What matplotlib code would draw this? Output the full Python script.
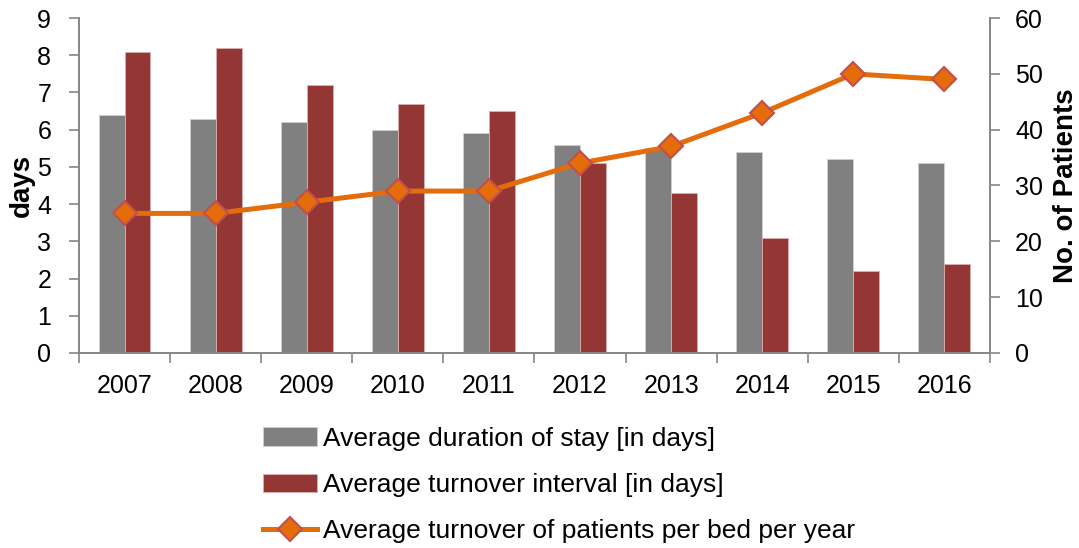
import matplotlib.pyplot as plt
import numpy as np

plt.rcParams["font.family"] = ["Liberation Sans", "DejaVu Sans"]

years = ["2007", "2008", "2009", "2010", "2011", "2012", "2013", "2014", "2015", "2016"]
stay_days = [6.4, 6.3, 6.2, 6.0, 5.9, 5.6, 5.5, 5.4, 5.2, 5.1]
interval_days = [8.1, 8.2, 7.2, 6.7, 6.5, 5.1, 4.3, 3.1, 2.2, 2.4]
turnover = [25, 25, 27, 29, 29, 34, 37, 43, 50, 49]

GRAY = "#808080"
RED = "#943634"
ORANGE = "#E46C0A"
EDGE = "#C0504D"
AXIS = "#868686"

fig = plt.figure(figsize=(10.79, 5.48), dpi=100)
ax = fig.add_axes([0.0732, 0.356, 0.8443, 0.611])
ax2 = ax.twinx()

x = np.arange(len(years))
w = 0.285
ax.bar(x - w / 2, stay_days, w, color=GRAY, edgecolor="#d0d0d0", linewidth=0.6,
       label="Average duration of stay [in days]")
ax.bar(x + w / 2, interval_days, w, color=RED, edgecolor="#d9b0b0", linewidth=0.6,
       label="Average turnover interval [in days]")
ax2.plot(x, turnover, color=ORANGE, lw=3.6, marker="D", ms=12, mfc=ORANGE,
         mec=EDGE, mew=1.5, label="Average turnover of patients per bed per year")

ax.set_xlim(-0.5, len(years) - 0.5)
ax.set_ylim(0, 9)
ax.set_yticks(range(0, 10))
ax2.set_ylim(0, 60)
ax2.set_yticks(range(0, 61, 10))

ax.set_xticks(x)
ax.set_xticklabels(years)
ax.set_xticks(np.arange(-0.5, len(years)), minor=True)
ax.tick_params(axis="x", which="major", length=0, labelsize=18, pad=15)
ax.tick_params(axis="x", which="minor", length=7, color=AXIS, width=1.2)
ax.tick_params(axis="y", length=7, color=AXIS, width=1.2, labelsize=18, pad=13)
ax2.tick_params(axis="y", length=7, color=AXIS, width=1.2, labelsize=18, pad=11)

for a in (ax, ax2):
    a.spines["top"].set_visible(False)
    for s in ("left", "right", "bottom"):
        a.spines[s].set_color(AXIS)
        a.spines[s].set_linewidth(1.2)

ax.set_ylabel("days", fontsize=20, fontweight="bold", labelpad=2)
ax2.set_ylabel("No. of Patients", fontsize=20, fontweight="bold", labelpad=7)

h1, l1 = ax.get_legend_handles_labels()
h2, l2 = ax2.get_legend_handles_labels()
fig.legend(h1 + h2, l1 + l2, loc="upper left", bbox_to_anchor=(0.2433, 0.221),
           frameon=False, fontsize=19, handlelength=2.05, handletextpad=0.23,
           labelspacing=0.84, borderaxespad=0, borderpad=0)

fig.savefig("out.png", dpi=100)
